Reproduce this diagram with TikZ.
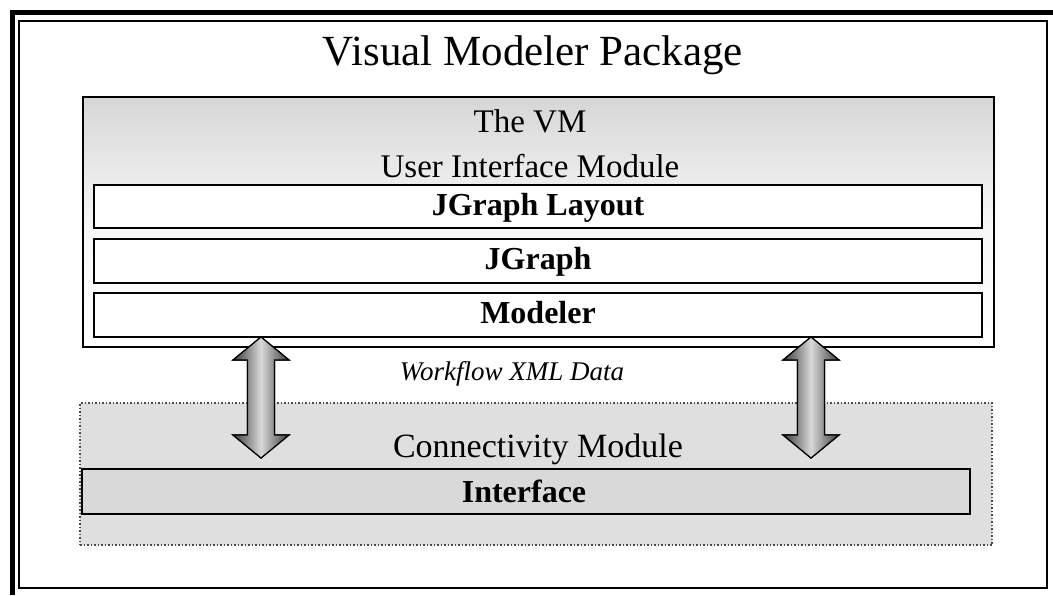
\documentclass[tikz,border=0pt]{standalone}
\usepackage{fontspec}
\setmainfont{Liberation Serif}
\begin{document}
\begin{tikzpicture}[x=1pt,y=-1pt,
  box/.style={draw=black, line width=2pt, inner sep=0pt, outer sep=0pt, anchor=north west},
  bar/.style={box, fill=white},
  lbl/.style={anchor=base, inner sep=0pt},
  dblarrow/.style={left color=gray!45!black, right color=gray!45!black, middle color=gray!30, draw=black, line width=1.2pt}
]
\useasboundingbox (0,0) rectangle (1053,595);
\fill[white] (0,0) rectangle (1053,595);
% outer frame
\draw[line width=5pt] (12.5,595) -- (12.5,12.5) -- (1053,12.5);
\draw[line width=2pt] (19,21) rectangle (1047,588);
\node[lbl] (title) at (533,65) {\fontsize{43}{43}\selectfont Visual Modeler Package};
% top module
\node[box, minimum width=911pt, minimum height=250pt, top color=gray!32, bottom color=white, middle color=white!94!gray] (ui) at (83,97) {};
\node[lbl] (vm1) at (530,132) {\fontsize{33}{33}\selectfont The VM};
\node[lbl] (vm2) at (530,177) {\fontsize{33}{33}\selectfont User Interface Module};
\node[bar, minimum width=888pt, minimum height=43pt] (jgl) at (94,185) {};
\node[bar, minimum width=888pt, minimum height=44pt] (jg) at (94,239) {};
\node[bar, minimum width=888pt, minimum height=44pt] (mod) at (94,293) {};
\node[lbl] at (538,215) {\fontsize{32}{32}\selectfont\bfseries JGraph Layout};
\node[lbl] at (538,269) {\fontsize{32}{32}\selectfont\bfseries JGraph};
\node[lbl] at (538,323) {\fontsize{32}{32}\selectfont\bfseries Modeler};
% connectivity module
\node[anchor=north west, inner sep=0pt, outer sep=0pt, minimum width=912pt, minimum height=142pt, fill=gray!25, draw=gray!60!black, line width=1.5pt, dotted] (cm) at (80,403) {};
\node[lbl] (cmt) at (538,457) {\fontsize{34}{34}\selectfont Connectivity Module};
\node[box, minimum width=888pt, minimum height=45pt, fill=gray!30] (intf) at (82,469) {};
\node[lbl] at (524,502) {\fontsize{32}{32}\selectfont\bfseries Interface};
% data label
\node[lbl] (wf) at (512,380) {\fontsize{27}{27}\selectfont\itshape Workflow XML Data};
% double arrows
\foreach \cx/\nm in {261/a1, 811/a2}{
  \shade[dblarrow] (\cx,337) -- (\cx+28,360) -- (\cx+13.5,360) -- (\cx+13.5,435) -- (\cx+28,435)
    -- (\cx,458) -- (\cx-28,435) -- (\cx-13.5,435) -- (\cx-13.5,360) -- (\cx-28,360) -- cycle;
  \draw[dblarrow] (\cx,337) -- (\cx+28,360) -- (\cx+13.5,360) -- (\cx+13.5,435) -- (\cx+28,435)
    -- (\cx,458) -- (\cx-28,435) -- (\cx-13.5,435) -- (\cx-13.5,360) -- (\cx-28,360) -- cycle;
  \coordinate (\nm) at (\cx,397);
}
\end{tikzpicture}
\end{document}
